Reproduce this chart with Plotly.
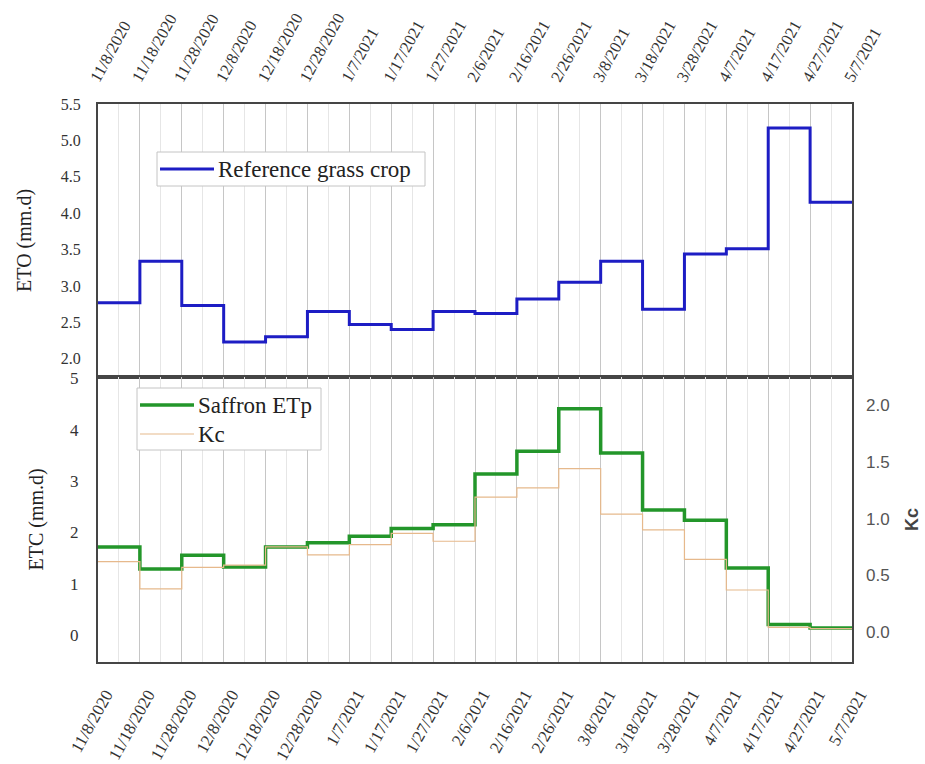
import pandas as pd
import plotly.graph_objects as go

# Ten-day periods of the saffron season (tick labels mark period boundaries)
tick_labels = ['11/8/2020', '11/18/2020', '11/28/2020', '12/8/2020', '12/18/2020',
               '12/28/2020', '1/7/2021', '1/17/2021', '1/27/2021', '2/6/2021',
               '2/16/2021', '2/26/2021', '3/8/2021', '3/18/2021', '3/28/2021',
               '4/7/2021', '4/17/2021', '4/27/2021', '5/7/2021']

# Reference grass-crop evapotranspiration per period (mm/d)
eto = [2.77, 3.34, 2.73, 2.23, 2.30, 2.65, 2.47, 2.40, 2.65,
       2.62, 2.82, 3.05, 3.34, 2.68, 3.44, 3.51, 5.17, 4.15]
# Saffron potential evapotranspiration per period (mm/d)
etc = [1.72, 1.29, 1.56, 1.33, 1.72, 1.80, 1.93, 2.08, 2.15,
       3.14, 3.58, 4.41, 3.55, 2.44, 2.24, 1.31, 0.21, 0.14]
# Crop coefficient per period
kc = [0.62, 0.38, 0.57, 0.59, 0.75, 0.68, 0.77, 0.87, 0.80,
      1.19, 1.27, 1.44, 1.04, 0.90, 0.64, 0.37, 0.04, 0.03]

tick_dates = pd.to_datetime(tick_labels, format='%m/%d/%Y')
minor_dates = tick_dates[:-1] + pd.Timedelta(days=5)
x_range = [tick_dates[0], tick_dates[-1]]

W, H = 925, 764
ML, MR, MT, MB = 98, 73, 104, 102

serif = 'Liberation Serif, Times New Roman, serif'
sans = 'Liberation Sans, Arial, sans-serif'
frame = '#454545'
split = 0.511

BLUE = '#1d1dc4'
GREEN = '#23962a'
TAN = '#e6b98c'


def step(values):
    # hold the last period's value until the final boundary
    return list(values) + [values[-1]]


def px(x):
    return (x - ML) / (W - ML - MR)


def py(y):
    return 1 - (y - MT) / (H - MT - MB)


fig = go.Figure()
fig.add_trace(go.Scatter(x=tick_dates, y=step(eto), mode='lines', line_shape='hv',
                         name='Reference grass crop', line=dict(color=BLUE, width=3),
                         xaxis='x', yaxis='y', showlegend=False))
fig.add_trace(go.Scatter(x=tick_dates, y=step(kc), mode='lines', line_shape='hv',
                         name='Kc', line=dict(color=TAN, width=1.2),
                         xaxis='x2', yaxis='y3', showlegend=False))
fig.add_trace(go.Scatter(x=tick_dates, y=step(etc), mode='lines', line_shape='hv',
                         name='Saffron ETp', line=dict(color=GREEN, width=3.5),
                         xaxis='x2', yaxis='y2', showlegend=False))

xcommon = dict(type='date', range=x_range, tickmode='array', tickvals=tick_dates,
               ticktext=tick_labels, tickangle=-61, automargin=False,
               showgrid=True, gridcolor='#c6c6c6', gridwidth=1,
               minor=dict(tickmode='array', tickvals=minor_dates, showgrid=True,
                          gridcolor='#e6e6e6', gridwidth=1),
               showline=True, linecolor=frame, linewidth=2, mirror=True,
               ticks='', zeroline=False)

# Legend boxes drawn as framed keys
legend_boxes = [
    dict(box=(157, 152, 425, 186),
         items=[('Reference grass crop', BLUE, 3, 169)]),
    dict(box=(137, 388, 321, 450),
         items=[('Saffron ETp', GREEN, 3.5, 405), ('Kc', TAN, 1.2, 434)]),
]
shapes, annotations = [], []
for lg in legend_boxes:
    x0, y0, x1, y1 = lg['box']
    shapes.append(dict(type='rect', xref='paper', yref='paper', layer='above',
                       x0=px(x0), x1=px(x1), y0=py(y1), y1=py(y0),
                       fillcolor='white', line=dict(color='#c4c4c4', width=1)))
    for label, color, width, yc in lg['items']:
        shapes.append(dict(type='line', xref='paper', yref='paper', layer='above',
                           x0=px(x0 + 3), x1=px(x0 + 57), y0=py(yc), y1=py(yc),
                           line=dict(color=color, width=width)))
        annotations.append(dict(text=label, xref='paper', yref='paper',
                                x=px(x0 + 59), y=py(yc), xanchor='left', yanchor='middle',
                                showarrow=False,
                                font=dict(family=serif, size=23, color='#222')))

fig.update_layout(
    width=W, height=H,
    margin=dict(l=ML, r=MR, t=MT, b=MB),
    paper_bgcolor='white', plot_bgcolor='white',
    showlegend=False,
    xaxis=dict(xcommon, anchor='y', side='top', ticklabelstandoff=8, ticklabelshift=-6,
               tickfont=dict(family=serif, size=16.5, color='#333')),
    xaxis2=dict(xcommon, anchor='y2', side='bottom', ticklabelstandoff=14, ticklabelshift=8,
                tickfont=dict(family=serif, size=17, color='#333')),
    yaxis=dict(domain=[split, 1], range=[1.75, 5.5], tickvals=[2.0, 2.5, 3.0, 3.5, 4.0, 4.5, 5.0, 5.5],
               tickformat='.1f', tickfont=dict(family=serif, size=16, color='#333'),
               ticklabelstandoff=12, showgrid=False, zeroline=False, automargin=False,
               showline=True, linecolor=frame, linewidth=2, mirror=True,
               title=dict(text='ETO (mm.d)', font=dict(family=serif, size=20, color='#222'),
                          standoff=24)),
    yaxis2=dict(domain=[0, split], range=[-0.52, 5.03], tickvals=[0, 1, 2, 3, 4, 5],
                tickfont=dict(family=serif, size=17, color='#333'),
                ticklabelstandoff=14, showgrid=False, zeroline=False, automargin=False,
                showline=True, linecolor=frame, linewidth=2, mirror=True,
                title=dict(text='ETC (mm.d)', font=dict(family=serif, size=20, color='#222'),
                           standoff=21)),
    yaxis3=dict(overlaying='y2', anchor='x2', side='right', range=[-0.265, 2.25],
                tickvals=[0.0, 0.5, 1.0, 1.5, 2.0], tickformat='.1f',
                tickfont=dict(family=sans, size=17, color='#555'),
                ticklabelstandoff=13, showgrid=False, zeroline=False, automargin=False,
                title=dict(text='<b>Kc</b>', font=dict(family=sans, size=18, color='#444'),
                           standoff=16)),
    shapes=shapes,
    annotations=annotations,
)

fig.write_html('out.html')
